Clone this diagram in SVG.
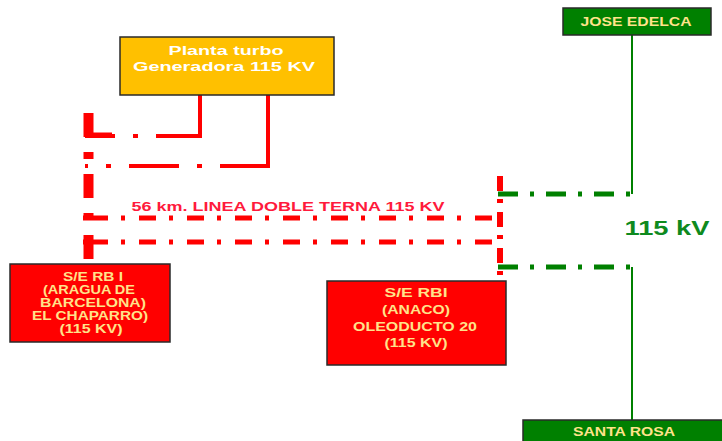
<svg xmlns="http://www.w3.org/2000/svg" width="722" height="441" viewBox="0 0 722 441">
<style>
.box{stroke:#2a2a2a;stroke-width:1.5}
.t{font-family:"Liberation Sans",Arial,sans-serif;font-weight:bold;text-anchor:middle}
.yt{fill:#FFE38A;font-size:12.5px}
.red{fill:none;stroke:#FF0000}
.grn{fill:none;stroke:#008000}
</style>
<rect width="722" height="441" fill="#ffffff"/>
<g id="connectors">
  <path class="red" d="M200,95 V136" stroke-width="4"/>
  <path class="red" d="M202,136 H85" stroke-width="4" stroke-dasharray="46 18 5 18"/>
  <path class="red" d="M268,95 V166" stroke-width="4"/>
  <path class="red" d="M270,166 H85" stroke-width="4" stroke-dasharray="50 18 5 18"/>
  <path class="red" d="M88.5,113 V260" stroke-width="10" stroke-dasharray="24 15 7 15"/>
  <path class="red" d="M85,135 H112" stroke-width="5"/>
  <path class="red" d="M83,218 H497" stroke-width="5" stroke-dasharray="25 13 4 14 17 13 4 14 17 13 4 14 17 13 4 14 17 13 4 14 17 13 4 14 17 13 4 14 17 13 4 14 17 13 4 14 17 13 4 14"/>
  <path class="red" d="M83,242 H497" stroke-width="5" stroke-dasharray="25 13 4 14 17 13 4 14 17 13 4 14 17 13 4 14 17 13 4 14 17 13 4 14 17 13 4 14 17 13 4 14 17 13 4 14 17 13 4 14"/>
  <path class="red" d="M500,176 V275" stroke-width="6" stroke-dasharray="15 8 4 9"/>
  <path class="grn" d="M632,35 V194" stroke-width="2"/>
  <path class="grn" d="M498,194 H632" stroke-width="5" stroke-dasharray="20 12 4 12"/>
  <path class="grn" d="M632,267 V420" stroke-width="2"/>
  <path class="grn" d="M498,267 H632" stroke-width="5" stroke-dasharray="20 12 4 12"/>
  <text class="t" x="288" y="211" font-size="13.5" fill="#FF1A3C" textLength="313" lengthAdjust="spacingAndGlyphs">56 km. LINEA DOBLE TERNA 115 KV</text>
  <text class="t" x="667" y="235" font-size="20" fill="#0E8A1E" textLength="85" lengthAdjust="spacingAndGlyphs">115 kV</text>
</g>
<g id="planta">
  <rect class="box" x="120" y="37" width="214" height="58" fill="#FFC000"/>
  <text class="t" x="226" y="55" font-size="13.5" fill="#ffffff" textLength="115" lengthAdjust="spacingAndGlyphs">Planta turbo</text>
  <text class="t" x="224" y="71" font-size="13.5" fill="#ffffff" textLength="182" lengthAdjust="spacingAndGlyphs">Generadora 115 KV</text>
</g>
<g id="rb1-aragua">
  <rect class="box" x="10" y="264" width="160" height="78" fill="#FF0000"/>
  <text class="t yt" x="93" y="281" textLength="60" lengthAdjust="spacingAndGlyphs">S/E RB I</text>
  <text class="t yt" x="89" y="294" textLength="92" lengthAdjust="spacingAndGlyphs">(ARAGUA DE</text>
  <text class="t yt" x="93" y="307" textLength="106" lengthAdjust="spacingAndGlyphs">BARCELONA)</text>
  <text class="t yt" x="90" y="320" textLength="116" lengthAdjust="spacingAndGlyphs">EL CHAPARRO)</text>
  <text class="t yt" x="91" y="333" textLength="63" lengthAdjust="spacingAndGlyphs">(115 KV)</text>
</g>
<g id="rb1-anaco">
  <rect class="box" x="327" y="281" width="179" height="84" fill="#FF0000"/>
  <text class="t yt" x="416" y="297" textLength="63" lengthAdjust="spacingAndGlyphs">S/E RBI</text>
  <text class="t yt" x="416" y="314" textLength="68" lengthAdjust="spacingAndGlyphs">(ANACO)</text>
  <text class="t yt" x="415" y="331" textLength="124" lengthAdjust="spacingAndGlyphs">OLEODUCTO 20</text>
  <text class="t yt" x="416" y="347" textLength="63" lengthAdjust="spacingAndGlyphs">(115 KV)</text>
</g>
<g id="jose-edelca">
  <rect class="box" x="563" y="8" width="148" height="27" fill="#008000"/>
  <text class="t yt" x="636" y="26" textLength="111" lengthAdjust="spacingAndGlyphs">JOSE EDELCA</text>
</g>
<g id="santa-rosa">
  <rect class="box" x="523" y="420" width="200" height="30" fill="#008000"/>
  <text class="t yt" x="624" y="436" textLength="102" lengthAdjust="spacingAndGlyphs">SANTA ROSA</text>
</g>
</svg>
